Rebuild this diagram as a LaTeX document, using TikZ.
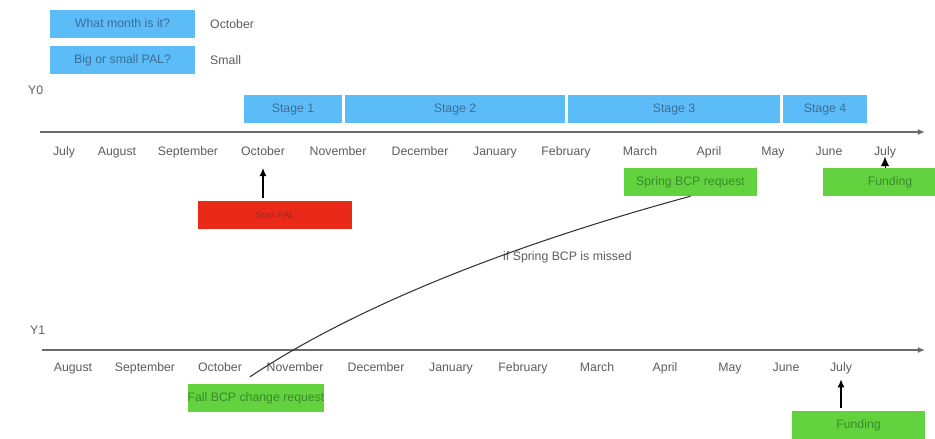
\documentclass[tikz,border=0pt]{standalone}
\usepackage{fontspec}
\setmainfont{Liberation Sans}
\usetikzlibrary{arrows.meta}
\definecolor{Sky}{HTML}{5BBCF8}
\definecolor{SkyInk}{HTML}{3D6E98}
\definecolor{Leaf}{HTML}{62D23E}
\definecolor{LeafInk}{HTML}{3B8A2C}
\definecolor{Alarm}{HTML}{E92A18}
\definecolor{AlarmInk}{HTML}{A0261E}
\definecolor{Ink}{HTML}{5C5C5C}
\definecolor{Rule}{HTML}{6A6A6A}
\tikzset{
  month/.style={text=Ink,font=\fontsize{10.5}{12}\selectfont,inner sep=0pt,text height=1.6ex,text depth=0.4ex},
  plain/.style={text=Ink,font=\fontsize{10.5}{12}\selectfont,inner sep=0pt},
  skybox/.style={fill=Sky,text=SkyInk,font=\fontsize{10.5}{12}\selectfont,minimum height=0.84cm,inner sep=0pt,text height=1.6ex,text depth=0.4ex},
  leafbox/.style={fill=Leaf,text=LeafInk,font=\fontsize{10.5}{12}\selectfont,minimum height=0.84cm,inner sep=0pt,text height=1.6ex,text depth=0.4ex},
  axis/.style={Rule,line width=1.1pt,-{Latex[length=6pt,width=5pt]}},
  uparrow/.style={black,line width=1.4pt,-{Latex[length=7pt,width=6pt]}}
}

\begin{document}
\begin{tikzpicture}[x=0.03cm,y=-0.03cm]
\useasboundingbox (0,0) rectangle (935,438);
\node[skybox,minimum width=4.35cm] (q1) at (122.5,24) {What month is it?};
\node[plain,anchor=west] (a1) at (210,24) {October};
\node[skybox,minimum width=4.35cm] (q2) at (122.5,59.5) {Big or small PAL?};
\node[plain,anchor=west] (a2) at (210,60) {Small};
\node[plain,anchor=west] (y0) at (28,90) {Y0};
\node[skybox,minimum width=2.94cm] (s1) at (293,109) {Stage 1};
\node[skybox,minimum width=6.6cm] (s2) at (455,109) {Stage 2};
\node[skybox,minimum width=6.36cm] (s3) at (674,109) {Stage 3};
\node[skybox,minimum width=2.52cm] (s4) at (825,109) {Stage 4};
\coordinate (ax0s) at (40,132);
\coordinate (ax0e) at (925,132);
\draw[axis] (ax0s) -- (ax0e);
\foreach \x/\m [count=\i] in {64/July,117/August,188/September,263/October,338/November,420/December,495/January,566/February,640/March,709/April,773/May,829/June,885/July}{\node[month] (y0m\i) at (\x,152) {\m};}
\node[fill=Alarm,text=AlarmInk,font=\fontsize{8}{9}\selectfont,minimum width=4.62cm,minimum height=0.84cm,inner sep=0pt] (start) at (275,215) {Start PAL};
\draw[uparrow,shorten <=2pt,shorten >=8pt] (start.north -| y0m4) -- (y0m4.south);
\node[leafbox,minimum width=3.99cm] (spring) at (690.5,182) {Spring BCP request};
\node[leafbox,minimum width=4.02cm] (fund0) at (890,182) {Funding};
\draw[black,-{Latex[length=8pt,width=7pt]}] (fund0.north -| y0m13) -- ++(0,-11) coordinate (tip0);
\node[plain,anchor=west] (miss) at (503,257) {if Spring BCP is missed};
\node[plain,anchor=west] (y1) at (30,330) {Y1};
\coordinate (ax1s) at (42,350);
\coordinate (ax1e) at (925,350);
\draw[axis] (ax1s) -- (ax1e);
\foreach \x/\m [count=\i] in {73/August,145/September,220/October,295/November,376/December,451/January,523/February,597/March,665/April,730/May,786/June,841/July}{\node[month] (y1m\i) at (\x,368) {\m};}
\node[leafbox,minimum width=4.02cm] (fall) at (256,398) {Fall BCP change request};
\node[leafbox,minimum width=3.99cm] (fund1) at (858.5,425) {Funding};
\draw[uparrow,shorten <=2pt,shorten >=4pt] (fund1.north -| y1m12) -- (y1m12.south);
\draw[black!80,line width=0.9pt] (spring.south) .. controls (540,237) and (370,297) .. ([shift={(-6,-7)}]fall.north);
\end{tikzpicture}
\end{document}
